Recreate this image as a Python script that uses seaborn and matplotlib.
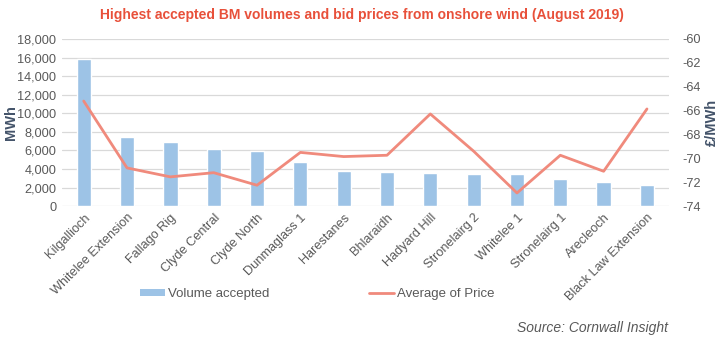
import matplotlib
matplotlib.use("Agg")
import matplotlib.pyplot as plt
import seaborn as sns
import pandas as pd
from matplotlib.patches import Patch
from matplotlib.lines import Line2D

sites = ["Kilgallioch", "Whitelee Extension", "Fallago Rig", "Clyde Central", "Clyde North",
         "Dunmaglass 1", "Harestanes", "Bhlaraidh", "Hadyard Hill", "Stronelairg 2",
         "Whitelee 1", "Stronelairg 1", "Arecleoch", "Black Law Extension"]
volume = [15830, 7430, 6950, 6120, 5970, 4710, 3800, 3690, 3520, 3410, 3410, 2870, 2650, 2320]
price = [-65.2, -70.8, -71.55, -71.2, -72.25, -69.5, -69.85, -69.74, -66.28, -69.4,
         -72.9, -69.74, -71.08, -65.86]
left_ticks = list(range(0, 18001, 2000))
right_ticks = list(range(-74, -59, 2))

df = pd.DataFrame({"site": sites, "volume": volume, "price": price})

sns.set_theme(style="white")
plt.rcParams['font.family'] = ['Liberation Sans', 'DejaVu Sans']

bar_color = "#9DC3E6"
line_color = "#F08A7C"
tick_color = "#595959"
label_color = "#44546A"

fig = plt.figure(figsize=(7.23, 3.39), dpi=100)
ax = fig.add_axes([0.0858, 0.392, 0.839, 0.493])
sns.barplot(data=df, x="site", y="volume", color=bar_color, width=0.33, ax=ax,
            saturation=1, zorder=2)
ax.set_ylim(0, 18000)
ax.set_yticks(left_ticks)
ax.set_yticklabels([f"{v:,}" for v in left_ticks])
ax.yaxis.grid(True, color="#D9D9D9", linewidth=0.9, zorder=0)
ax.set_axisbelow(True)
ax.set_xlim(-0.5, 13.5)
ax.set_xlabel("")
ax.set_ylabel("MWh", fontsize=10.5, fontweight="bold", color=label_color)
ax.yaxis.set_label_coords(-0.072, 0.5)
for s in ax.spines.values():
    s.set_visible(False)
ax.tick_params(axis="both", length=0, labelsize=9.2, colors=tick_color, pad=4)
ax.set_xticks(range(len(sites)))
ax.set_xticklabels(sites, rotation=45, ha="right", rotation_mode="anchor")

ax2 = ax.twinx()
sns.lineplot(data=df, x="site", y="price", color=line_color, linewidth=2.0, ax=ax2,
             sort=False)
ax2.set_ylim(-74, -60)
ax2.set_yticks(right_ticks)
ax2.set_yticklabels([str(v) for v in right_ticks])
ax2.set_ylabel("£/MWh", fontsize=10.5, fontweight="bold", color=label_color)
ax2.yaxis.set_label_coords(1.06, 0.5)
ax2.set_xlim(-0.5, 13.5)
for s in ax2.spines.values():
    s.set_visible(False)
ax2.tick_params(axis="both", length=0, labelsize=9.2, colors=tick_color, pad=10)
ax2.grid(False)

fig.text(0.5, 0.955, "Highest accepted BM volumes and bid prices from onshore wind (August 2019)",
         ha="center", va="center", fontsize=10, fontweight="bold", color="#E8503A")

handles = [Patch(facecolor=bar_color, edgecolor="none"),
           Line2D([0], [0], color=line_color, linewidth=2.0)]
fig.legend(handles, ["Volume accepted", "Average of Price"], loc="center left",
           bbox_to_anchor=(140 / 723, 1 - 294 / 339), ncol=2, frameon=False, fontsize=9.5,
           labelcolor=tick_color, columnspacing=7.6, handlelength=1.9, handletextpad=0.2,
           handleheight=0.5, borderpad=0, borderaxespad=0)

fig.text(0.924, 0.033, "Source: Cornwall Insight", ha="right", va="center",
         fontsize=10, style="italic", color=tick_color)

fig.savefig("out.png", dpi=100)
